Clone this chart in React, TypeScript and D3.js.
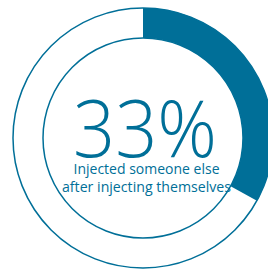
import React from "react";
import * as d3 from "d3";

const values = [33];
const labels = ["33%"];
const captionLines = ["Injected someone else", "after injecting themselves"];

const W = 268;
const H = 271;
const COLOR = "#006f98";

export default function App() {
  const cx = 143;
  const cy = 138;
  const rOuter = 130;
  const rInner = 100;
  const angle = d3.scaleLinear().domain([0, 100]).range([0, 2 * Math.PI]);
  const arcGen = d3.arc<any>().innerRadius(rInner).outerRadius(rOuter);
  const path = arcGen({ startAngle: 0, endAngle: angle(values[0]) } as any) || "";
  const font = "'Open Sans', 'Noto Sans', sans-serif";
  const capWidths = [146, 169];
  return (
    <svg width={W} height={H} style={{ position: "absolute", left: 0, top: 0, background: "#fff" }}>
      <g transform={`translate(${cx},${cy})`}>
        <circle r={rOuter} fill="none" stroke={COLOR} strokeWidth={1.5} />
        <circle r={rInner} fill="none" stroke={COLOR} strokeWidth={1.5} />
        <path d={path} fill={COLOR} />
        <text x={2} y={19} textAnchor="middle" fill={COLOR} fontFamily={font} fontWeight={300} fontSize={80} textLength={144} lengthAdjust="spacingAndGlyphs">{labels[0]}</text>
        {captionLines.map((t, i) => (
          <text key={i} x={3.5} y={36 + i * 17.5} textAnchor="middle" fill={COLOR} fontFamily={font} fontSize={14.5} textLength={capWidths[i]} lengthAdjust="spacingAndGlyphs">{t}</text>
        ))}
      </g>
    </svg>
  );
}
